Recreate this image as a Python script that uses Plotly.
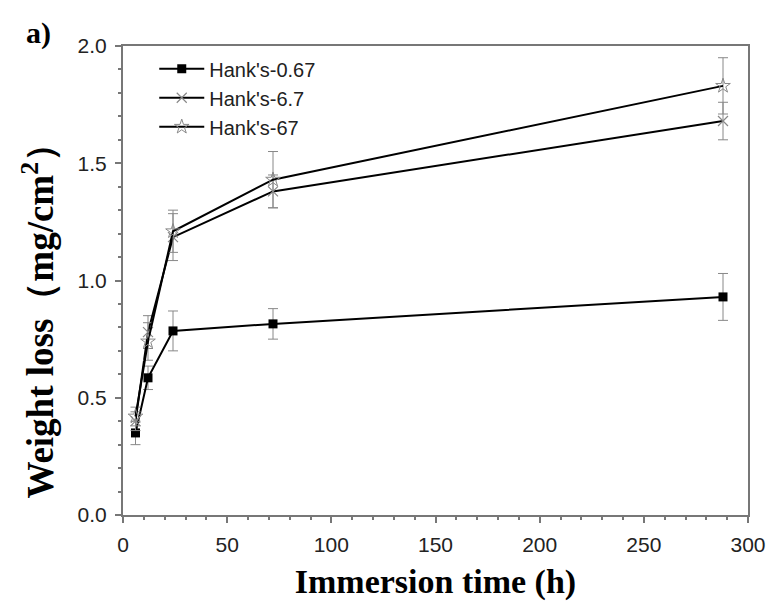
import plotly.graph_objects as go

time_h = [6, 12, 24, 72, 288]
s067 = [0.35, 0.585, 0.785, 0.815, 0.93]
e067 = [0.05, 0.05, 0.085, 0.065, 0.10]
s67a = [0.40, 0.78, 1.185, 1.38, 1.68]
e67a = [0.04, 0.07, 0.10, 0.07, 0.08]
s67b = [0.42, 0.74, 1.21, 1.43, 1.83]
e67b = [0.04, 0.08, 0.09, 0.12, 0.12]
names = ["Hank's-0.67", "Hank's-6.7", "Hank's-67"]

fig = go.Figure()
specs = [
    (s067, e067, dict(symbol="square", size=9, color="black")),
    (s67a, e67a, dict(symbol="x-thin-open", size=10, color="#888", line=dict(width=1.2, color="#888"))),
    (s67b, e67b, dict(symbol="star-open", size=11, color="#888", line=dict(width=1, color="#888"))),
]
for name, (ys, es, mk) in zip(names, specs):
    fig.add_trace(go.Scatter(
        x=time_h, y=ys, name=name, mode="lines+markers",
        line=dict(color="black", width=2),
        marker=mk,
        error_y=dict(type="data", array=es, visible=True, color="#888", thickness=1, width=5),
    ))

serif = "Liberation Serif, Times New Roman"
axis_common = dict(
    showline=True, linecolor="#777", linewidth=2, mirror=True,
    ticks="outside", ticklen=6, tickcolor="#777", tickwidth=1.5,
    showgrid=False, zeroline=False,
    tickfont=dict(family="Liberation Sans, Arial", size=21, color="#222"),
    minor=dict(ticks="outside", ticklen=3, tickcolor="#777"),
)
fig.update_xaxes(range=[0, 300], dtick=50, ticklabelstandoff=4, **axis_common,
                 title=dict(text="<b>Immersion time (h)</b>", standoff=14,
                            font=dict(family=serif, size=34, color="black")))
fig.update_yaxes(range=[0, 2], dtick=0.5, tickformat=".1f", ticklabelstandoff=4, **axis_common)
fig.update_layout(
    width=778, height=609,
    margin=dict(l=123, r=24, t=46, b=94),
    paper_bgcolor="white", plot_bgcolor="white",
    showlegend=True,
    legend=dict(x=0.05, y=0.993, xanchor="left", yanchor="top", bgcolor="rgba(0,0,0,0)",
                font=dict(family="Liberation Sans, Arial", size=20, color="#222"),
                tracegroupgap=0, itemwidth=45),
)
fig.add_annotation(text="<b>Weight loss（mg/cm<sup>2</sup>）</b>", xref="paper", yref="paper",
                   x=-0.135, y=0.433, xanchor="center", yanchor="middle", textangle=-90,
                   showarrow=False, font=dict(family=serif, size=37, color="black"))
fig.add_annotation(text="<b>a)</b>", xref="paper", yref="paper", x=-0.135, y=1.028,
                   xanchor="center", yanchor="middle", showarrow=False,
                   font=dict(family=serif, size=30, color="black"))
fig.write_html("out.html")
